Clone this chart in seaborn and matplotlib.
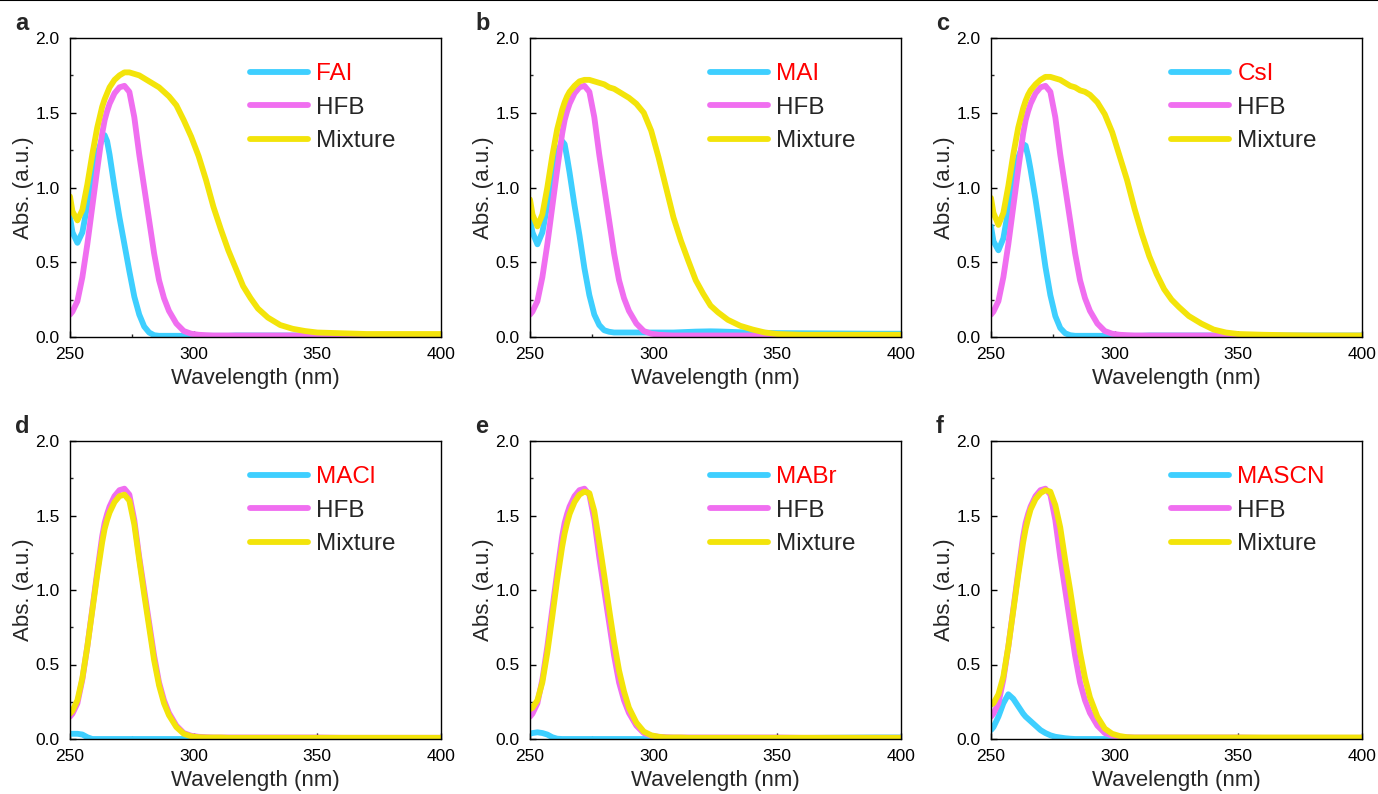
import matplotlib
matplotlib.use('Agg')
import matplotlib.pyplot as plt
from matplotlib.lines import Line2D
from matplotlib.ticker import MultipleLocator, FormatStrFormatter
import seaborn as sns

# wavelength grid (nm) shared by all spectra
wl = [250, 251, 253, 255, 257, 259, 261, 263, 264, 265,
      266, 268, 270, 272, 274, 276, 278, 280, 282, 284,
      286, 288, 290, 293, 296, 299, 302, 305, 308, 311,
      314, 317, 320, 323, 326, 330, 335, 340, 345, 350,
      360, 370, 380, 390, 400]

# HFB reference spectrum (same in every panel)
hfb = [0.15, 0.17, 0.24, 0.40, 0.62, 0.87, 1.12, 1.36, 1.45, 1.51,
       1.56, 1.63, 1.67, 1.68, 1.64, 1.47, 1.22, 1.00, 0.78, 0.56,
       0.38, 0.26, 0.175, 0.09, 0.04, 0.022, 0.015, 0.012, 0.01, 0.01,
       0.01, 0.01, 0.01, 0.01, 0.01, 0.01, 0.01, 0.01, 0.01, 0.01,
       0.008, 0.008, 0.008, 0.008, 0.008]

# a: FAI
fai = [0.80, 0.70, 0.63, 0.70, 0.88, 1.06, 1.22, 1.33, 1.35, 1.31,
       1.22, 1.00, 0.80, 0.62, 0.44, 0.27, 0.15, 0.07, 0.03, 0.012,
       0.008, 0.008, 0.008, 0.008, 0.008, 0.008, 0.008, 0.008, 0.008, 0.008,
       0.008, 0.01, 0.01, 0.01, 0.01, 0.01, 0.01, 0.01, 0.01, 0.01,
       0.01, 0.01, 0.01, 0.01, 0.01]
fai_mix = [0.94, 0.84, 0.78, 0.85, 1.02, 1.22, 1.40, 1.54, 1.59, 1.63,
           1.67, 1.72, 1.75, 1.77, 1.77, 1.76, 1.75, 1.73, 1.71, 1.69,
           1.67, 1.64, 1.61, 1.55, 1.45, 1.34, 1.21, 1.05, 0.87, 0.72,
           0.58, 0.46, 0.34, 0.26, 0.19, 0.13, 0.08, 0.055, 0.04, 0.03,
           0.025, 0.02, 0.02, 0.02, 0.02]

# b: MAI
mai = [0.79, 0.70, 0.62, 0.70, 0.88, 1.06, 1.23, 1.31, 1.29, 1.20,
       1.10, 0.88, 0.68, 0.46, 0.28, 0.15, 0.08, 0.045, 0.035, 0.03,
       0.03, 0.03, 0.03, 0.03, 0.03, 0.03, 0.03, 0.03, 0.03, 0.032,
       0.034, 0.036, 0.037, 0.038, 0.037, 0.035, 0.032, 0.03, 0.028, 0.026,
       0.025, 0.024, 0.023, 0.022, 0.022]
mai_mix = [0.92, 0.82, 0.74, 0.82, 1.00, 1.21, 1.39, 1.52, 1.57, 1.61,
           1.64, 1.68, 1.71, 1.72, 1.72, 1.71, 1.70, 1.69, 1.67, 1.66,
           1.64, 1.62, 1.60, 1.56, 1.50, 1.38, 1.20, 1.00, 0.80, 0.645,
           0.51, 0.38, 0.29, 0.21, 0.165, 0.115, 0.075, 0.05, 0.03, 0.02,
           0.015, 0.015, 0.015, 0.015, 0.015]

# c: CsI
csi = [0.74, 0.64, 0.58, 0.66, 0.85, 1.04, 1.20, 1.29, 1.28, 1.21,
       1.12, 0.92, 0.70, 0.47, 0.28, 0.14, 0.06, 0.025, 0.012, 0.008,
       0.008, 0.008, 0.008, 0.008, 0.008, 0.008, 0.008, 0.008, 0.008, 0.008,
       0.01, 0.01, 0.01, 0.01, 0.01, 0.01, 0.01, 0.01, 0.01, 0.01,
       0.01, 0.01, 0.01, 0.01, 0.01]
csi_mix = [0.93, 0.83, 0.75, 0.83, 1.01, 1.22, 1.40, 1.53, 1.58, 1.62,
           1.65, 1.69, 1.72, 1.74, 1.74, 1.73, 1.72, 1.70, 1.68, 1.67,
           1.65, 1.64, 1.62, 1.57, 1.49, 1.37, 1.21, 1.05, 0.86, 0.69,
           0.54, 0.42, 0.32, 0.25, 0.20, 0.14, 0.09, 0.05, 0.03, 0.02,
           0.015, 0.012, 0.01, 0.01, 0.01]

# d: MACl
macl = [0.035, 0.035, 0.035, 0.03, 0.012, 0.0, 0.0, 0.0, 0.0, 0.0,
        0.0, 0.0, 0.0, 0.0, 0.0, 0.0, 0.0, 0.0, 0.0, 0.0,
        0.0, 0.0, 0.0, 0.0, 0.0, 0.0, 0.0, 0.0, 0.0, 0.0,
        0.0, 0.0, 0.0, 0.0, 0.0, 0.0, 0.0, 0.0, 0.0, 0.0,
        0.0, 0.0, 0.0, 0.0, 0.0]
macl_mix = [0.17, 0.19, 0.26, 0.41, 0.62, 0.86, 1.10, 1.32, 1.41, 1.47,
            1.52, 1.59, 1.63, 1.64, 1.60, 1.44, 1.20, 0.97, 0.75, 0.53,
            0.36, 0.24, 0.16, 0.08, 0.035, 0.018, 0.012, 0.01, 0.01, 0.01,
            0.008, 0.008, 0.008, 0.008, 0.008, 0.008, 0.008, 0.008, 0.008, 0.008,
            0.008, 0.008, 0.008, 0.008, 0.008]

# e: MABr
mabr = [0.035, 0.04, 0.045, 0.04, 0.03, 0.012, 0.002, 0.0, 0.0, 0.0,
        0.0, 0.0, 0.0, 0.0, 0.0, 0.0, 0.0, 0.0, 0.0, 0.0,
        0.0, 0.0, 0.0, 0.0, 0.0, 0.0, 0.0, 0.0, 0.0, 0.0,
        0.0, 0.0, 0.0, 0.0, 0.0, 0.002, 0.003, 0.004, 0.005, 0.006,
        0.007, 0.008, 0.009, 0.01, 0.01]
mabr_mix = [0.20, 0.21, 0.26, 0.38, 0.58, 0.82, 1.07, 1.29, 1.38, 1.45,
            1.51, 1.59, 1.64, 1.66, 1.65, 1.53, 1.32, 1.10, 0.87, 0.65,
            0.46, 0.32, 0.21, 0.11, 0.05, 0.025, 0.015, 0.01, 0.01, 0.01,
            0.008, 0.008, 0.008, 0.008, 0.008, 0.008, 0.008, 0.008, 0.008, 0.008,
            0.008, 0.008, 0.008, 0.008, 0.008]

# f: MASCN
mascn = [0.06, 0.08, 0.15, 0.24, 0.30, 0.27, 0.22, 0.17, 0.15, 0.135,
         0.12, 0.09, 0.06, 0.04, 0.025, 0.015, 0.01, 0.005, 0.002, 0.0,
         0.0, 0.0, 0.0, 0.0, 0.0, 0.0, 0.0, 0.0, 0.0, 0.0,
         0.0, 0.0, 0.0, 0.0, 0.0, 0.0, 0.0, 0.0, 0.0, 0.0,
         0.0, 0.0, 0.0, 0.0, 0.0]
mascn_mix = [0.23, 0.24, 0.30, 0.42, 0.62, 0.86, 1.10, 1.32, 1.41, 1.48,
             1.54, 1.61, 1.65, 1.67, 1.66, 1.57, 1.42, 1.20, 1.00, 0.78,
             0.58, 0.41, 0.28, 0.15, 0.07, 0.035, 0.02, 0.012, 0.01, 0.01,
             0.01, 0.01, 0.01, 0.01, 0.01, 0.01, 0.01, 0.01, 0.01, 0.01,
             0.01, 0.01, 0.01, 0.01, 0.01]

letters = ['a', 'b', 'c', 'd', 'e', 'f']
salts = ['FAI', 'MAI', 'CsI', 'MACl', 'MABr', 'MASCN']
salt_curves = [fai, mai, csi, macl, mabr, mascn]
mix_curves = [fai_mix, mai_mix, csi_mix, macl_mix, mabr_mix, mascn_mix]

CYAN = '#3ECFFF'
PINK = '#F06EF0'
YELLOW = '#F3E40A'

sns.set_theme(style='ticks')
plt.rcParams['font.family'] = ['Liberation Sans', 'DejaVu Sans']

W, H = 1378, 794
fig = plt.figure(figsize=(W / 100, H / 100), dpi=100)

lefts = [70, 530, 991]
rows = [(38, 337), (441, 739)]
aw = 371

for i in range(6):
    top, bot = rows[i // 3]
    left = lefts[i % 3]
    ax = fig.add_axes([left / W, 1 - bot / H, aw / W, (bot - top) / H])

    sns.lineplot(x=wl, y=salt_curves[i], ax=ax, color=CYAN, lw=4.2, label=salts[i],
                 estimator=None, sort=False)
    sns.lineplot(x=wl, y=hfb, ax=ax, color=PINK, lw=4.2, label='HFB',
                 estimator=None, sort=False)
    sns.lineplot(x=wl, y=mix_curves[i], ax=ax, color=YELLOW, lw=4.2, label='Mixture',
                 estimator=None, sort=False)
    for ln in ax.lines:
        ln.set_solid_joinstyle('round')

    ax.set_xlim(250, 400)
    ax.set_ylim(0, 2.0)
    ax.xaxis.set_major_locator(MultipleLocator(50))
    ax.xaxis.set_minor_locator(MultipleLocator(25))
    ax.yaxis.set_major_locator(MultipleLocator(0.5))
    ax.yaxis.set_minor_locator(MultipleLocator(0.25))
    ax.yaxis.set_major_formatter(FormatStrFormatter('%.1f'))
    ax.tick_params(which='major', direction='in', length=4, width=1,
                   labelsize=12.5, pad=7.5, colors='black')
    ax.tick_params(which='minor', direction='in', length=2.5, width=1)
    for s in ax.spines.values():
        s.set_linewidth(1.0)
        s.set_color('black')

    ax.set_xlabel('Wavelength (nm)', fontsize=16, labelpad=4)
    ax.set_ylabel('Abs. (a.u.)', fontsize=16, labelpad=1)

    leg = ax.legend(loc='upper left', bbox_to_anchor=(0.485, 0.915), frameon=False,
                    fontsize=17.5, handlelength=2.4, handletextpad=0.33,
                    labelspacing=0.47, borderpad=0, borderaxespad=0)
    for ln in leg.get_lines():
        ln.set_solid_capstyle('round')
        ln.set_linewidth(4.2)
    leg.get_texts()[0].set_color('red')

    ax.text(-55 / aw, 1 + 8 / (bot - top), letters[i], transform=ax.transAxes,
            ha='left', va='baseline', fontsize=17, fontweight='bold')

fig.add_artist(Line2D([0, 1], [0.9995, 0.9995], transform=fig.transFigure,
                      color='black', lw=1.5))

fig.savefig('out.png', dpi=100)
